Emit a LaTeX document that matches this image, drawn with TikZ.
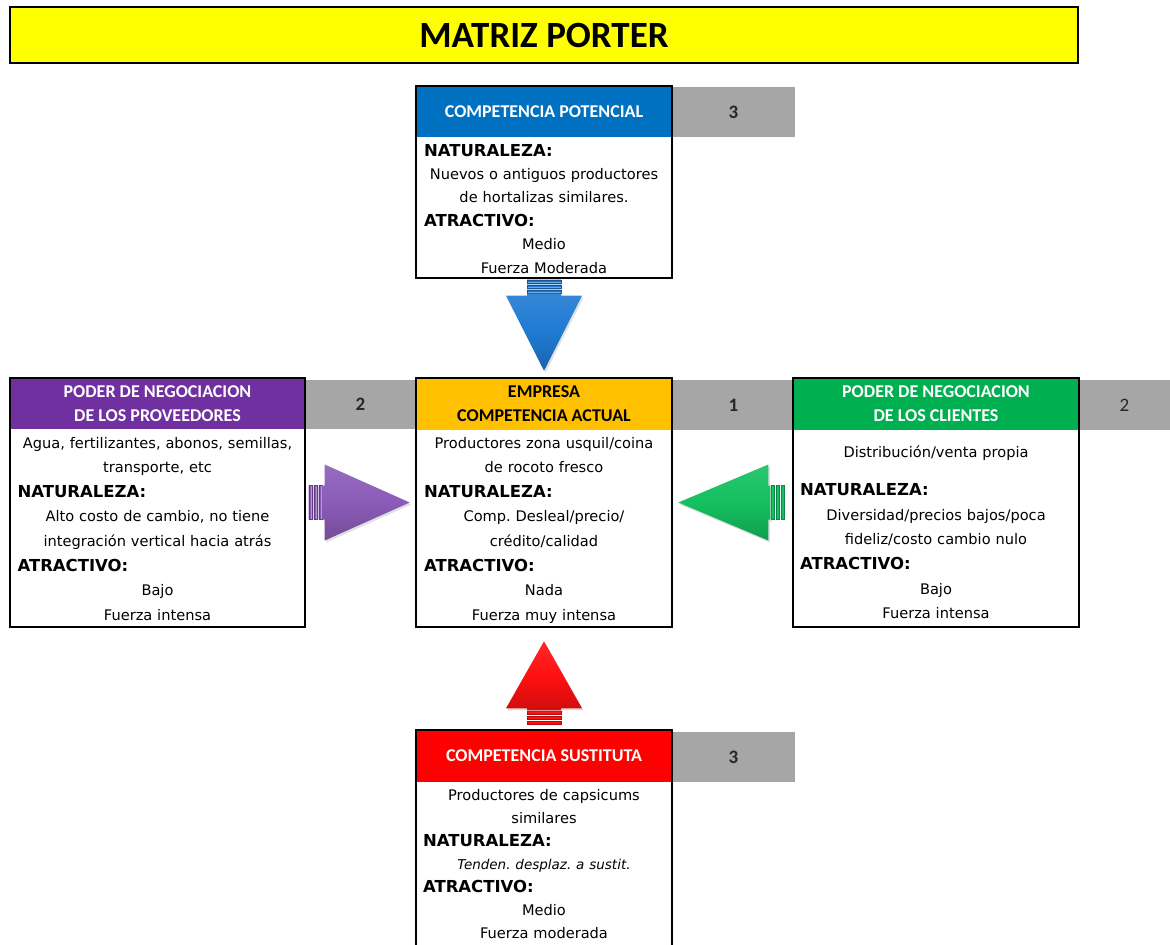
\documentclass[tikz,border=0pt]{standalone}
\usepackage{fontspec}
\setmainfont{DejaVu Sans}
\newfontfamily\calibri{Carlito}
\newfontfamily\negrita{DejaVu Sans Bold}
\usetikzlibrary{calc,shadows}

\definecolor{amarillo}{HTML}{FFFF00}
\definecolor{azul}{HTML}{0070C0}
\definecolor{morado}{HTML}{7030A0}
\definecolor{naranja}{HTML}{FFC000}
\definecolor{verde}{HTML}{00B050}
\definecolor{rojo}{HTML}{FF0000}
\definecolor{gris}{HTML}{A6A6A6}
\definecolor{flechaazul}{HTML}{1F7AD2}
\definecolor{flechamorada}{HTML}{8A5CB8}
\definecolor{flechaverde}{HTML}{14C060}
\definecolor{flecharoja}{HTML}{FF1010}

% rotulo en negrita alineado a la izquierda dentro del cuerpo centrado
\newcommand{\etiqueta}[1]{\makebox[\linewidth][l]{\negrita\fontsize{16.5}{16.5}\selectfont #1}}

\tikzset{
  caja/.style={draw, line width=2.6pt, inner sep=0pt},
  cabecera/.style={inner sep=0pt, align=center, text=white,
    font=\calibri\bfseries\fontsize{18}{24}\selectfont},
  puntaje/.style={fill=gris, inner sep=0pt, text=black!85,
    font=\calibri\bfseries\fontsize{19}{19}\selectfont},
  cuerpo/.style 2 args={inner sep=0pt, align=center, text width=#1,
    font=\frenchspacing\fontsize{14.6}{#2}\selectfont},
  % flecha con la punta en (0,0), apuntando hacia +x
  pics/fuerza/.style 2 args={code={
    \fill[#1, draw=#1!70!black, line width=0.4pt]
      (-#2-16,-17) rectangle (-#2-13,17)
      (-#2-11,-17) rectangle (-#2-8,17)
      (-#2-6,-17) rectangle (-#2-3,17);
    \shade[top color=#1!90!white, bottom color=#1!82!black, middle color=#1,
      drop shadow={opacity=.25, shadow xshift=1.5pt, shadow yshift=-2pt}]
      (0,0) -- (-#2,-38) -- (-#2,-17) -- (-#2-2,-17) -- (-#2-2,17)
      -- (-#2,17) -- (-#2,38) -- cycle;
  }}
}

\begin{document}
\begin{tikzpicture}[x=1pt, y=-1pt]
\useasboundingbox (0,0) rectangle (1170,945);

% titulo
\node[caja, fill=amarillo, minimum width=1068pt, minimum height=56pt,
  font=\calibri\bfseries\fontsize{37}{37}\selectfont] (titulo) at (544,35) {MATRIZ PORTER};

% casillas grises con el puntaje
\node[puntaje, minimum width=123pt, minimum height=50pt] (potnum) at (733.5,112) {3};
\node[puntaje, minimum width=111pt, minimum height=49pt] (provnum) at (360.5,404) {2};
\node[puntaje, minimum width=123pt, minimum height=50pt] (empnum) at (733.5,405) {1};
\node[puntaje, minimum width=91pt, minimum height=50pt,
  font=\calibri\fontsize{19}{19}\selectfont] (clinum) at (1124.5,405) {2};
\node[puntaje, minimum width=123pt, minimum height=50pt] (sustnum) at (733.5,757) {3};

% cabeceras de color
\node[cabecera, fill=azul, minimum width=256pt, minimum height=51pt] (potencial-t) at (544,111.5) {COMPETENCIA POTENCIAL};
\node[cabecera, fill=morado, minimum width=295pt, minimum height=51pt] (proveedores-t) at (157.5,403.5) {PODER DE NEGOCIACION\\DE LOS PROVEEDORES};
\node[cabecera, fill=naranja, text=black, minimum width=256pt, minimum height=52pt] (empresa-t) at (544,404) {EMPRESA\\COMPETENCIA ACTUAL};
\node[cabecera, fill=verde, minimum width=286pt, minimum height=52pt] (clientes-t) at (936,404) {PODER DE NEGOCIACION\\DE LOS CLIENTES};
\node[cabecera, fill=rojo, minimum width=256pt, minimum height=52pt] (sustituta-t) at (544,756) {COMPETENCIA SUSTITUTA};

% marcos
\node[caja, minimum width=256pt, minimum height=192pt] (potencial) at (544,182) {};
\node[caja, minimum width=295pt, minimum height=249pt] (proveedores) at (157.5,502.5) {};
\node[caja, minimum width=256pt, minimum height=249pt] (empresa) at (544,502.5) {};
\node[caja, minimum width=286pt, minimum height=249pt] (clientes) at (936,502.5) {};
\node[caja, minimum width=256pt, minimum height=230pt] (sustituta) at (544,845) {};

% textos
\node[cuerpo={240pt}{23.4pt}, anchor=base] (potencial-c) at (544,156)
  {\etiqueta{NATURALEZA:}\\ Nuevos o antiguos productores\\ de hortalizas similares.\\
   \etiqueta{ATRACTIVO:}\\ Medio\\ Fuerza Moderada};
\node[cuerpo={280pt}{24.6pt}, anchor=base] (proveedores-c) at (157.5,448)
  {Agua, fertilizantes, abonos, semillas,\\ transporte, etc\\ \etiqueta{NATURALEZA:}\\
   Alto costo de cambio, no tiene\\ integración vertical hacia atrás\\
   \etiqueta{ATRACTIVO:}\\ Bajo\\ Fuerza intensa};
\node[cuerpo={240pt}{24.6pt}, anchor=base] (empresa-c) at (544,448)
  {Productores zona usquil/coina\\ de rocoto fresco\\ \etiqueta{NATURALEZA:}\\
   Comp. Desleal/precio/\\ crédito/calidad\\ \etiqueta{ATRACTIVO:}\\ Nada\\ Fuerza muy intensa};
\node[cuerpo={272pt}{24.6pt}, anchor=base] (clientes-c) at (936,457)
  {Distribución/venta propia\\[14pt] \etiqueta{NATURALEZA:}\\
   Diversidad/precios bajos/poca\\ fideliz/costo cambio nulo\\ \etiqueta{ATRACTIVO:}\\
   Bajo\\ Fuerza intensa};
\node[cuerpo={242pt}{23pt}, anchor=base] (sustituta-c) at (544,800)
  {Productores de capsicums\\ similares\\ \etiqueta{NATURALEZA:}\\
   {\itshape\fontsize{13.5}{23}\selectfont Tenden. desplaz. a sustit.}\\
   \etiqueta{ATRACTIVO:}\\ Medio\\ Fuerza moderada};

% las cuatro fuerzas sobre la empresa
\pic[rotate=-90] at ($(empresa.north)+(0,-6)$) {fuerza={flechaazul}{75}};
\pic at ($(empresa.west)+(-5,0)$) {fuerza={flechamorada}{85}};
\pic[rotate=180] at ($(empresa.east)+(5,0)$) {fuerza={flechaverde}{90}};
\pic[rotate=90] at ($(empresa.south)+(0,13)$) {fuerza={flecharoja}{67}};
\end{tikzpicture}
\end{document}
